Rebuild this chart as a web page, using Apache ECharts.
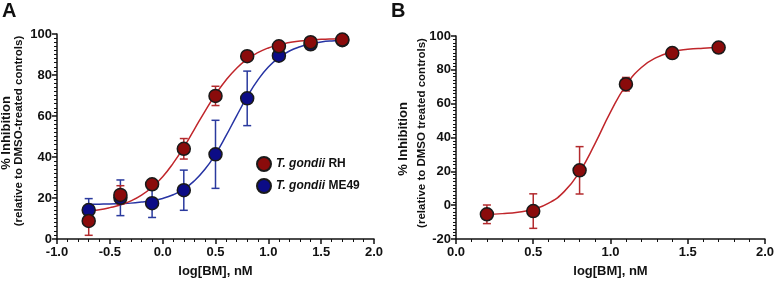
<!DOCTYPE html>
<html>
<head>
<meta charset="utf-8">
<script src="https://cdn.jsdelivr.net/npm/echarts@6/dist/echarts.min.js"></script>
<style>
  html, body { margin: 0; padding: 0; background: #fff; }
  #chart { width: 777px; height: 283px; }
</style>
</head>
<body>
<div id="chart"></div>
<script>
// panel A: measured points (log dose vs % inhibition, mean and error)
const doseA = [-0.7, -0.4, -0.1, 0.2, 0.5, 0.8, 1.1, 1.4, 1.7]
const rhMean = [8.8, 21.5, 26.7, 44, 69.8, 89.2, 94, 96, 97.3]
const rhErr = [7, 4.5, 1.5, 5, 4.7, 1.5, 1.5, 1, 0.8]
const me49Mean = [14.1, 20.1, 17.5, 23.8, 41.3, 68.6, 89.4, 95, 97]
const me49Err = [5.6, 8.7, 7, 9.8, 16.6, 13.3, 2, 1.2, 1]

// panel A: fitted curves
const curveXA = [-0.72, -0.6, -0.5, -0.4, -0.3, -0.2, -0.1, 0.0, 0.1, 0.2, 0.3, 0.4, 0.5, 0.6, 0.7, 0.8, 0.9, 1.0, 1.1, 1.2, 1.3, 1.4, 1.5, 1.6, 1.72]
const rhCurve = [13.5, 14.3, 15.3, 16.6, 18.6, 21.4, 25.3, 30.4, 37.0, 44.8, 53.5, 62.3, 70.5, 77.6, 83.3, 87.7, 90.9, 93.2, 94.8, 95.8, 96.6, 97.0, 97.4, 97.6, 97.7]
const me49Curve = [16.9, 17.0, 17.1, 17.3, 17.5, 18.0, 18.7, 19.8, 21.6, 24.3, 28.4, 34.0, 41.4, 50.4, 60.1, 69.4, 77.5, 83.9, 88.5, 91.7, 93.8, 95.2, 96.1, 96.6, 96.9]

// panel B
const doseB = [0.2, 0.5, 0.8, 1.1, 1.4, 1.7]
const bMean = [-5.4, -3.5, 20.6, 71.5, 89.9, 93.2]
const bErr = [5.5, 10.2, 14, 4, 2.8, 0.8]
const curveXB = [0.2, 0.3, 0.4, 0.5, 0.6, 0.7, 0.8, 0.9, 1.0, 1.1, 1.2, 1.3, 1.4, 1.5, 1.6, 1.7]
const bCurve = [-5.4, -5.0, -4.2, -2.4, 1.2, 8.0, 19.7, 36.4, 55.0, 70.8, 81.4, 87.4, 90.6, 92.1, 92.8, 93.2]

const xTicksA = { min: -1, max: 2, interval: 0.5 }
const xTicksB = { min: 0, max: 2, interval: 0.5 }
const yTicksA = { min: 0, max: 100, interval: 20 }
const yTicksB = { min: -20, max: 100, interval: 20 }

const RED_PT = '#8a0b0b', RED_LN = '#c0262b', RED_BAR = '#b32a2d'
const BLUE_PT = '#0c0c86', BLUE_LN = '#2633a3', BLUE_BAR = '#2a3a9e'
const FONT = 'Liberation Sans, Arial, sans-serif'

const zip = (xs, ys) => xs.map((x, i) => [x, ys[i]])
const bars = (xs, m, e) => xs.map((x, i) => [x, m[i] - e[i], m[i] + e[i]])

function xAxis(idx, ticks) {
  return {
    gridIndex: idx, type: 'value', ...ticks,
    name: 'log[BM], nM', nameLocation: 'middle', nameGap: 26,
    nameTextStyle: { fontFamily: FONT, fontWeight: 'bold', fontSize: 13, color: '#111' },
    axisLine: { show: true, onZero: false, lineStyle: { color: '#111', width: 1.5 } },
    axisTick: { show: true, length: 5, lineStyle: { width: 1.5 } },
    minorTick: { show: true, splitNumber: 5, length: 3, lineStyle: { color: '#111', width: 1 } },
    splitLine: { show: false },
    axisLabel: { formatter: v => v.toFixed(1), fontFamily: FONT, fontWeight: 'bold', fontSize: 13, color: '#111', margin: 7 },
  }
}

function yAxis(idx, ticks) {
  return {
    gridIndex: idx, type: 'value', ...ticks,
    axisLine: { show: true, onZero: false, lineStyle: { color: '#111', width: 1.5 } },
    axisTick: { show: true, length: 5, lineStyle: { width: 1.5 } },
    minorTick: { show: true, splitNumber: 10, length: 3, lineStyle: { color: '#111', width: 1 } },
    splitLine: { show: false },
    axisLabel: { fontFamily: FONT, fontWeight: 'bold', fontSize: 13, color: '#111', margin: 5 },
  }
}

function errorSeries(name, idx, data, color) {
  return {
    name, type: 'custom', xAxisIndex: idx, yAxisIndex: idx, data, z: 3, silent: true,
    renderItem: (params, api) => {
      const top = api.coord([api.value(0), api.value(2)])
      const bot = api.coord([api.value(0), api.value(1)])
      const w = 4
      const style = { stroke: color, lineWidth: 1.5 }
      return {
        type: 'group',
        children: [
          { type: 'line', shape: { x1: top[0], y1: top[1], x2: bot[0], y2: bot[1] }, style },
          { type: 'line', shape: { x1: top[0] - w, y1: top[1], x2: top[0] + w, y2: top[1] }, style },
          { type: 'line', shape: { x1: bot[0] - w, y1: bot[1], x2: bot[0] + w, y2: bot[1] }, style },
        ],
      }
    },
  }
}

function curveSeries(name, idx, data, color) {
  return {
    name, type: 'line', xAxisIndex: idx, yAxisIndex: idx, data, smooth: true,
    showSymbol: false, z: 2, silent: true, lineStyle: { color, width: 1.5 },
  }
}

function pointSeries(name, idx, data, color, z) {
  return {
    name, type: 'scatter', xAxisIndex: idx, yAxisIndex: idx, data, z,
    symbol: 'circle', symbolSize: 13,
    itemStyle: { color, borderColor: '#1a1a1a', borderWidth: 1.5, opacity: 1 },
  }
}

const chart = echarts.init(document.getElementById('chart'), null, { renderer: 'canvas' })

const yTitle = (x, y, text, size) => ({
  type: 'text', x, y, rotation: Math.PI / 2,
  style: { text, fontFamily: FONT, fontWeight: 'bold', fontSize: size, fill: '#111', align: 'center', verticalAlign: 'middle' },
})

chart.setOption({
  animation: false,
  grid: [
    { left: 57, top: 34, width: 317, height: 210 },
    { left: 456, top: 36, width: 312, height: 208 },
  ],
  xAxis: [xAxis(0, xTicksA), xAxis(1, xTicksB)],
  yAxis: [yAxis(0, yTicksA), yAxis(1, yTicksB)],
  legend: {
    data: ['T. gondii RH', 'T. gondii ME49'],
    orient: 'vertical', left: 256, top: 156, padding: 0,
    itemWidth: 14, itemHeight: 14, itemGap: 6, icon: 'circle',
    formatter: n => '{i|T. gondii} ' + n.replace('T. gondii ', ''),
    textStyle: {
      fontFamily: FONT, fontWeight: 'bold', fontSize: 12, color: '#111',
      rich: { i: { fontFamily: FONT, fontStyle: 'italic', fontWeight: 'bold', fontSize: 12, color: '#111' } },
    },
  },
  graphic: [
    { type: 'text', left: 2, top: 1, style: { text: 'A', fontFamily: FONT, fontWeight: 'bold', fontSize: 20, fill: '#111' } },
    { type: 'text', left: 391, top: 1, style: { text: 'B', fontFamily: FONT, fontWeight: 'bold', fontSize: 20, fill: '#111' } },
    yTitle(6, 133, '% Inhibition', 13),
    yTitle(19, 131, '(relative to DMSO-treated controls)', 11.5),
    yTitle(403, 139, '% Inhibition', 13),
    yTitle(422, 133, '(relative to DMSO treated controls)', 11.5),
  ],
  series: [
    curveSeries('me49 fit', 0, zip(curveXA, me49Curve), BLUE_LN),
    curveSeries('rh fit', 0, zip(curveXA, rhCurve), RED_LN),
    errorSeries('me49 err', 0, bars(doseA, me49Mean, me49Err), BLUE_BAR),
    errorSeries('rh err', 0, bars(doseA, rhMean, rhErr), RED_BAR),
    pointSeries('T. gondii ME49', 0, zip(doseA, me49Mean), BLUE_PT, 4),
    pointSeries('T. gondii RH', 0, zip(doseA, rhMean), RED_PT, 5),

    curveSeries('b fit', 1, zip(curveXB, bCurve), RED_LN),
    errorSeries('b err', 1, bars(doseB, bMean, bErr), RED_BAR),
    pointSeries('RH (B)', 1, zip(doseB, bMean), RED_PT, 5),
  ],
})
</script>
</body>
</html>
